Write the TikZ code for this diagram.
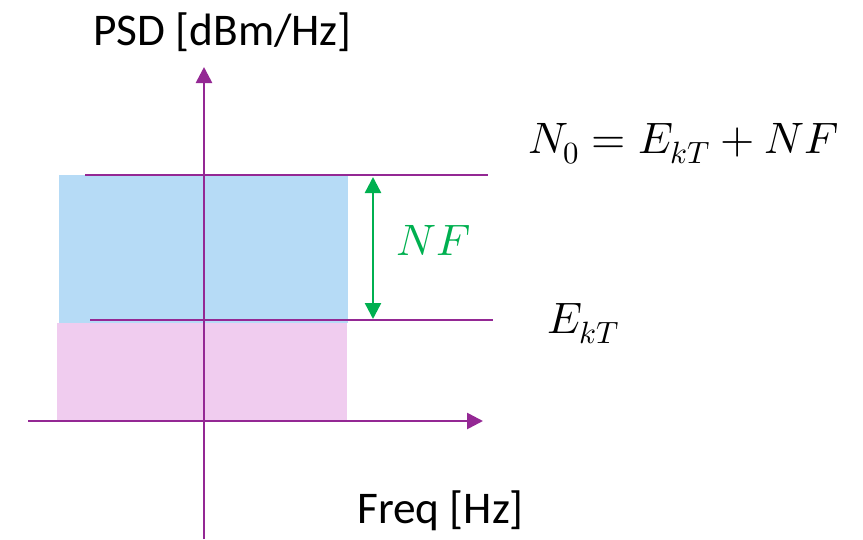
\documentclass[tikz,border=0pt]{standalone}
\usepackage{fontspec}
\usepackage{unicode-math}
\setsansfont{Carlito}
\usetikzlibrary{arrows.meta,positioning}
\definecolor{axispurple}{HTML}{942894}
\definecolor{nfgreen}{HTML}{00B050}
\definecolor{bandblue}{HTML}{B6DBF6}
\definecolor{bandpink}{HTML}{F0CCEF}

\begin{document}
\begin{tikzpicture}[x=0.75pt,y=-0.75pt,
  axis/.style={axispurple, line width=2pt, -{Triangle[length=12pt,width=12pt]}},
  level/.style={axispurple, line width=1.8pt},
  gap/.style={nfgreen, line width=1.8pt, {Triangle[length=12pt,width=12pt]}-{Triangle[length=12pt,width=12pt]}},
  lbl/.style={font=\sffamily\fontsize{34}{40}\selectfont, inner sep=0pt, anchor=base west},
  eq/.style={font=\fontsize{33}{38}\selectfont, inner sep=0pt, anchor=base west}]
\useasboundingbox (0,0) rectangle (863,539);
% noise bands
\fill[bandpink] (57,323) rectangle (347,421);
\fill[bandblue] (59,175) rectangle (348,323);
% axes
\coordinate (ybot) at (204,539);
\coordinate (ytop) at (204,67);
\coordinate (xleft) at (28,421);
\coordinate (xright) at (483,421);
\draw[axis] (xleft) -- (xright);
\draw[axis] (ybot) -- (ytop);
% levels
\coordinate (nzleft) at (85,175);
\coordinate (nzright) at (488,175);
\coordinate (ektleft) at (90,320);
\coordinate (ektright) at (493,320);
\draw[level] (nzleft) -- (nzright);
\draw[level] (ektleft) -- (ektright);
\coordinate (nftop) at (373,177);
\coordinate (nfbot) at (373,319);
\draw[gap] (nfbot) -- (nftop);
% labels
\node[lbl] (psd) at (93,45) {PSD [dBm/Hz]};
\node[lbl] (freq) at (357,523) {Freq [Hz]};
\node[eq, text=nfgreen] (nf) at (396,255) {$NF$};
\node[eq] (ekt) at (547,333) {$E_{kT}$};
\node[eq] (nzero) at (528,153) {$N_0 = E_{kT} + NF$};
\end{tikzpicture}
\end{document}
